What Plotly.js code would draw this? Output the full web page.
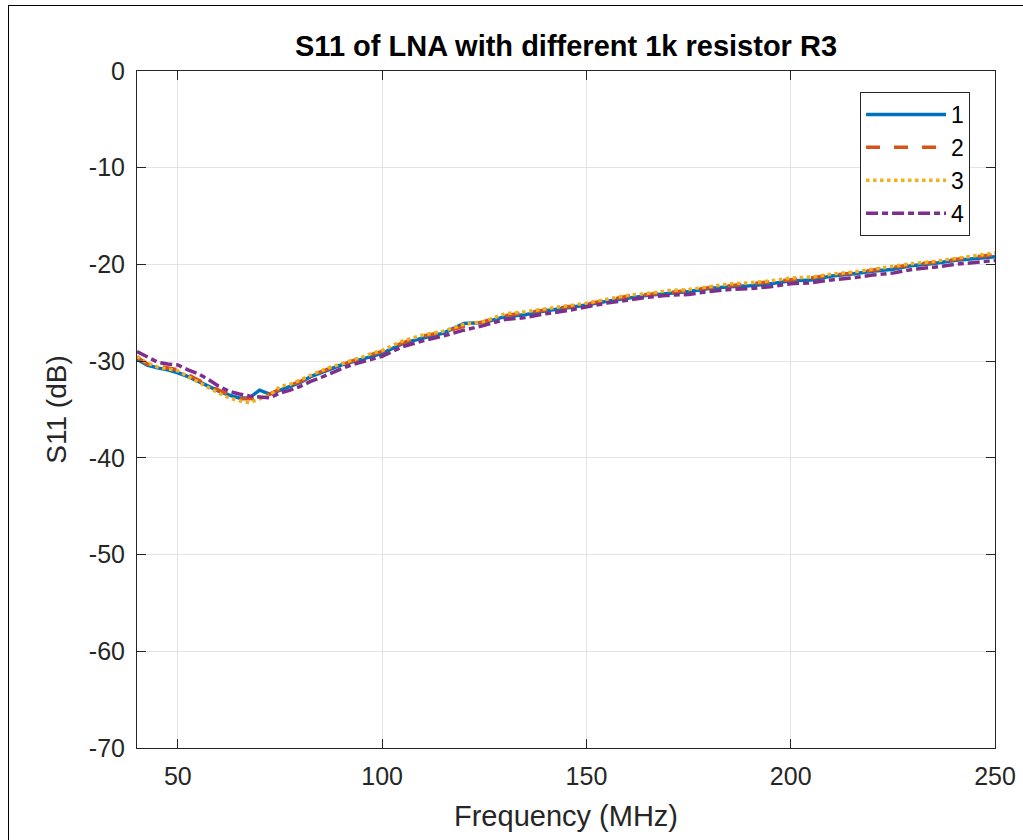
<!DOCTYPE html>
<html>
<head>
<meta charset="utf-8">
<script src="https://cdn.plot.ly/plotly-3.0.1.min.js"></script>
<style>
  html, body { margin: 0; padding: 0; background: #ffffff; }
  #chart { width: 1023px; height: 840px; position: absolute; left: 0; top: 0; }
  #frame { position: absolute; left: 8px; top: 5px; width: 1015px; height: 835px;
           border-top: 1.5px solid #000; border-left: 1.5px solid #000; pointer-events: none; box-sizing: border-box; }
</style>
</head>
<body>
<div id="chart"></div>
<div id="frame"></div>
<script>
// Frequency (MHz)
const freq = [40, 42.5, 45, 47.5, 50, 52.5, 55, 57.5, 60, 62.5, 65, 67.5, 70, 72.5, 75, 77.5, 80, 82.5, 85, 87.5, 90, 92.5, 95, 97.5, 100,
  105, 110, 115, 120, 125, 130, 135, 140, 145, 150, 155, 160, 165, 170, 175, 180, 185, 190, 195, 200,
  205, 210, 215, 220, 225, 230, 235, 240, 245, 250];

// S11 (dB) for each resistor
const s11_r1 = [-29.8, -30.4, -30.7, -30.9, -31.2, -31.6, -32.1, -32.6, -33.1, -33.5, -33.8, -33.8, -33.0, -33.4, -33.0, -32.6, -32.2, -31.6, -31.2, -30.8, -30.4, -30.1, -29.8, -29.5, -29.2,
  -28.2, -27.6, -27.1, -26.1, -26.0, -25.4, -25.2, -24.8, -24.5, -24.2, -23.8, -23.5, -23.2, -23.0, -22.8, -22.5, -22.3, -22.2, -22.0, -21.7,
  -21.6, -21.2, -21.0, -20.7, -20.5, -20.1, -19.9, -19.6, -19.4, -19.2];
const s11_r2 = [-29.6, -30.3, -30.5, -30.7, -30.9, -31.4, -32.0, -32.5, -33.0, -33.5, -33.9, -33.9, -33.8, -33.4, -32.9, -32.5, -32.1, -31.5, -31.1, -30.7, -30.4, -30.0, -29.7, -29.3, -29.0,
  -28.1, -27.4, -27.0, -26.4, -25.9, -25.3, -25.0, -24.7, -24.4, -24.1, -23.7, -23.3, -23.1, -22.9, -22.7, -22.4, -22.2, -22.0, -21.8, -21.6,
  -21.4, -21.1, -20.9, -20.6, -20.3, -20.0, -19.8, -19.5, -19.2, -19.0];
const s11_r3 = [-29.5, -30.2, -30.6, -30.8, -31.0, -31.6, -32.2, -32.7, -33.3, -33.8, -34.1, -34.3, -33.9, -33.6, -32.6, -32.4, -31.9, -31.4, -31.0, -30.6, -30.3, -29.9, -29.6, -29.2, -28.9,
  -27.9, -27.3, -26.9, -26.2, -25.9, -25.1, -24.9, -24.6, -24.3, -24.0, -23.6, -23.2, -23.0, -22.7, -22.6, -22.3, -22.0, -21.9, -21.7, -21.4,
  -21.3, -21.0, -20.8, -20.5, -20.2, -19.9, -19.7, -19.4, -19.1, -18.8];
const s11_r4 = [-29.0, -29.6, -30.1, -30.3, -30.4, -30.9, -31.3, -31.9, -32.6, -33.1, -33.4, -33.6, -33.7, -33.8, -33.3, -33.0, -32.6, -32.1, -31.7, -31.2, -30.8, -30.4, -30.1, -29.8, -29.5,
  -28.5, -27.9, -27.4, -26.8, -26.3, -25.7, -25.5, -25.1, -24.8, -24.4, -24.0, -23.7, -23.4, -23.2, -23.1, -22.8, -22.6, -22.5, -22.3, -22.0,
  -21.9, -21.6, -21.4, -21.1, -20.9, -20.5, -20.3, -20.0, -19.8, -19.6];

const seriesNames = ['1', '2', '3', '4'];
const xTicks = [50, 100, 150, 200, 250];
const yTicks = [0, -10, -20, -30, -40, -50, -60, -70];

const FONT = '"Liberation Sans", Arial, Helvetica, sans-serif';
const AX = '#262626';

const styles = [
  {color: '#0072BD', dash: 'solid'},
  {color: '#D95319', dash: '14px,14px'},
  {color: '#EDB120', dash: 'dot'},
  {color: '#7E2F8E', dash: '12px,4px,6px,4px'}
];
const ys = [s11_r1, s11_r2, s11_r3, s11_r4];

const traces = ys.map((y, i) => ({
  x: freq, y: y, type: 'scatter', mode: 'lines', name: seriesNames[i],
  line: {color: styles[i].color, dash: styles[i].dash, width: 3.5}
}));

const axisCommon = {
  showline: true, linecolor: AX, linewidth: 1, mirror: 'allticks',
  ticks: 'inside', ticklen: 9, tickcolor: AX, tickwidth: 1,
  showgrid: true, gridcolor: '#e3e3e3', gridwidth: 1,
  zeroline: false,
  tickfont: {family: FONT, size: 25, color: AX}
};

const layout = {
  width: 1023, height: 840,
  margin: {l: 137, r: 28, t: 71, b: 92},
  paper_bgcolor: '#ffffff', plot_bgcolor: '#ffffff',
  font: {family: FONT, color: AX},
  title: {text: '<b>S11 of LNA with different 1k resistor R3</b>', font: {family: FONT, size: 29, color: '#000'},
          x: 0.5533, xanchor: 'center', y: 0.946, yanchor: 'middle'},
  xaxis: Object.assign({}, axisCommon, {
    range: [40, 250], tickvals: xTicks, ticktext: xTicks.map(String),
    title: {text: 'Frequency (MHz)', font: {family: FONT, size: 29, color: AX}, standoff: 16},
    ticklabelstandoff: 6
  }),
  yaxis: Object.assign({}, axisCommon, {
    range: [-70, 0], tickvals: yTicks, ticktext: yTicks.map(String),
    title: {text: 'S11 (dB)', font: {family: FONT, size: 28, color: AX}, standoff: 14},
    ticklabelstandoff: 6
  }),
  showlegend: true,
  legend: {
    x: 0.8427, y: 0.969, xanchor: 'left', yanchor: 'top',
    bgcolor: '#ffffff', bordercolor: AX, borderwidth: 1,
    font: {family: FONT, size: 23, color: '#000'},
    itemwidth: 80, tracegroupgap: 0
  }
};

Plotly.newPlot('chart', traces, layout, {displayModeBar: false, staticPlot: true});
</script>
</body>
</html>
